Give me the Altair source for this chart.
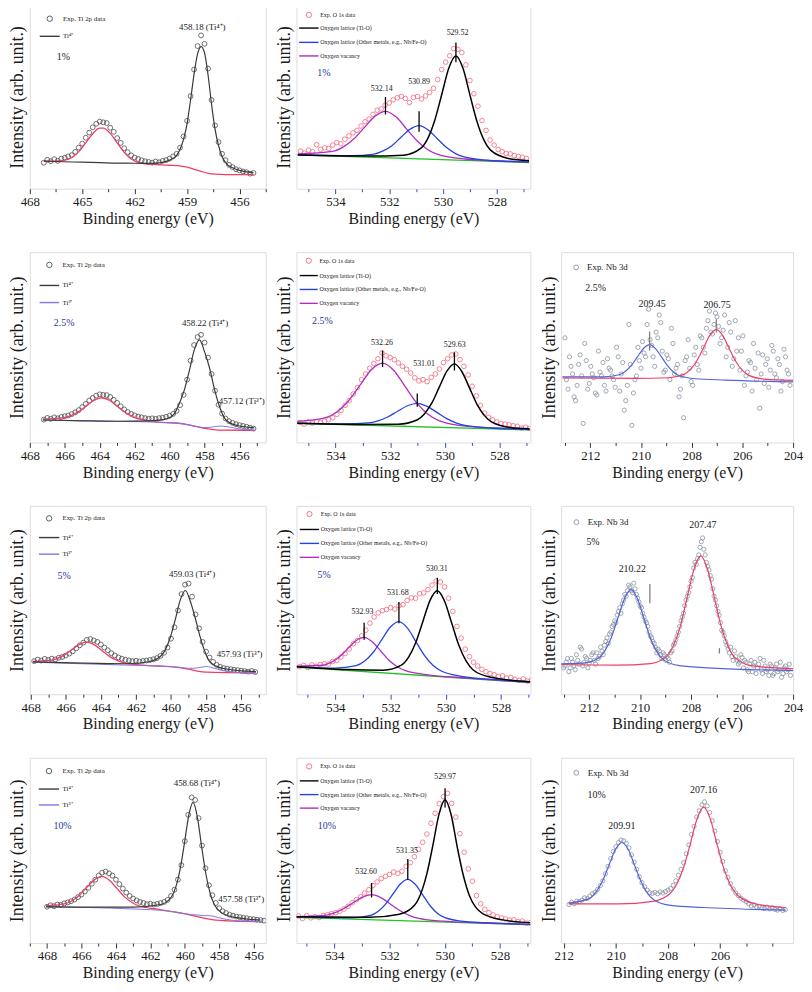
import altair as alt
import pandas as pd

FONT = "Liberation Serif, Times New Roman, serif"
RED = "#ee3f68"
TI_PT = "#4d4d4d"
O_PT = "#f2697c"
NB_PT = "#8893a3"
GRAY_FIT = "#3a3a3a"
TI3 = "#7b78e8"
O_BLACK = "#000000"
O_BLUE = "#2444e0"
O_MAG = "#b22cbf"
O_GREEN = "#22c022"
NB_BLUE = "#5464d8"
PCT_BLUE = "#28389e"
TXT = "#1a1a1a"
FRAME = "#5a5a5a"

# ---------------- Ti 2p, 1% ----------------
TI1_Y = [14.2, 15.8, 15.0, 16.1, 15.2, 16.4, 16.9, 17.6, 18.3, 20.1, 22.4, 24.6, 27.8, 30.6, 33.5, 35.4,
         36.6, 36.2, 35.8, 33.2, 31.0, 27.6, 25.0, 22.1, 19.9, 18.2, 17.0, 16.2, 15.5, 15.0, 14.6, 14.2,
         14.8, 14.4, 15.2, 15.6, 16.4, 17.6, 19.0, 22.4, 28.5, 37.0, 50.5, 65.0, 77.8, 83.6, 79.0, 65.5,
         48.4, 34.5, 25.4, 19.0, 15.6, 13.0, 11.8, 10.6, 10.0, 9.4, 9.0, 8.2, 8.6]
TI1_GRAY_X = [467.2, 466, 465, 464, 463, 462, 461, 460.4, 460.0, 459.8, 459.6, 459.4, 459.2, 459.0, 458.8,
              458.6, 458.4, 458.2, 458.0, 457.8, 457.6, 457.4, 457.2, 457.0, 456.8, 456.4, 456.0, 455.6, 455.2]
TI1_GRAY_Y = [15.0, 14.7, 14.45, 14.2, 13.95, 13.9, 13.8, 14.4, 15.6, 16.6, 18.2, 21.5, 27.0, 35.5, 48.5,
              62.5, 73.5, 77.5, 74.0, 62.0, 46.0, 32.5, 23.5, 17.6, 14.2, 11.4, 10.0, 9.2, 8.8]
TI1_RED_X = [467.2, 466.6, 466.0, 465.6, 465.2, 464.8, 464.4, 464.0, 463.8, 463.4, 463.0, 462.6, 462.2,
             461.8, 461.4, 461.0, 460.0, 459.4, 459.0, 458.6, 458.2, 457.8, 457.4, 456.8, 455.2]
TI1_RED_Y = [15.0, 15.1, 15.6, 17.0, 20.2, 25.0, 30.0, 33.0, 33.0, 30.2, 25.0, 19.8, 16.2, 14.4, 13.6,
             13.3, 12.8, 12.4, 11.8, 10.6, 9.5, 8.4, 7.9, 7.7, 7.7]

# ---------------- O 1s, 1% ----------------
O1_Y = [20.5, 19.4, 21.0, 20.2, 24.0, 21.5, 22.3, 22.0, 23.8, 25.2, 24.5, 27.0, 28.8, 30.5, 31.8, 34.2,
        36.5, 38.0, 40.5, 42.8, 43.5, 45.6, 46.8, 48.5, 49.6, 50.4, 49.2, 47.0, 49.8, 50.3, 48.9, 50.6,
        52.5, 54.8, 59.5, 65.0, 69.0, 72.5, 76.4, 76.0, 74.2, 67.5, 59.0, 51.8, 45.0, 37.2, 31.8, 26.5,
        23.8, 21.4, 20.2, 19.2, 19.0, 18.1, 17.6, 17.2, 16.5]
O1_BLACK_X = [535.4, 532.77, 531.47, 530.82, 530.56, 530.30, 530.04, 529.78, 529.52, 529.26, 529.00,
              528.74, 528.48, 528.22, 527.57, 526.8]
O1_BLACK_Y = [18.4, 17.8, 18.3, 22.1, 27.6, 37.6, 51.8, 66.0, 72.4, 65.8, 51.2, 36.8, 26.6, 20.9, 16.5, 15.3]
O1_BLUE_X = [535.4, 533.39, 532.56, 532.23, 531.89, 531.56, 531.22, 530.89, 530.56, 530.22, 529.89,
             529.55, 529.22, 528.39, 526.8]
O1_BLUE_Y = [18.55, 18.0, 18.9, 20.6, 23.6, 28.1, 32.5, 34.45, 32.2, 27.4, 22.7, 19.3, 17.35, 15.6, 14.5]
O1_MAG_X = [535.4, 534.11, 533.72, 533.32, 532.93, 532.53, 532.14, 531.75, 531.35, 530.96, 530.56,
            530.17, 529.18, 527.22, 526.8]
O1_MAG_Y = [19.0, 20.4, 22.7, 27.1, 33.3, 39.5, 42.2, 39.2, 32.5, 26.0, 21.25, 18.55, 16.2, 14.8, 14.6]
O1_BG_X = [535.4, 526.8]
O1_BG_Y = [18.4, 14.3]

# ---------------- Ti 2p, 2.5% ----------------
TI25_Y = [12.0, 12.9, 12.4, 13.2, 12.7, 13.4, 13.8, 14.2, 14.9, 15.8, 17.0, 18.6, 20.3, 22.0, 23.4, 24.6,
          25.3, 25.0, 24.9, 23.9, 22.4, 20.8, 19.0, 17.4, 16.0, 15.0, 14.2, 13.6, 13.2, 12.8, 12.5, 12.7,
          12.4, 12.8, 13.0, 13.5, 14.0, 15.0, 16.6, 19.6, 25.0, 33.0, 43.0, 51.2, 55.4, 56.6, 52.5, 44.6,
          36.0, 27.2, 19.8, 15.2, 12.6, 11.2, 10.3, 9.6, 9.1, 8.7, 8.3, 7.8, 7.3]
TI25_GRAY_X = [467.25, 465, 463, 461.19, 460.47, 460.03, 459.74, 459.45, 459.16, 458.87, 458.58, 458.29,
               458.0, 457.71, 457.42, 457.13, 456.84, 456.55, 456.12, 455.39, 455.15]
TI25_GRAY_Y = [11.8, 11.4, 11.15, 11.4, 11.9, 12.9, 15.0, 20.4, 27.5, 37.8, 48.9, 53.9, 47.6, 39.0, 27.5,
               18.5, 12.5, 10.3, 8.9, 7.9, 7.7]
TI25_RED_X = [467.25, 466.13, 465.68, 465.23, 464.78, 464.33, 463.88, 463.43, 462.98, 462.53, 462.08,
              461.63, 460.5, 459.5, 459.0, 458.5, 458.0, 457.5, 457.0, 455.15]
TI25_RED_Y = [12.2, 12.9, 14.0, 16.1, 19.1, 22.15, 23.5, 22.05, 18.9, 15.75, 13.5, 12.25, 10.6, 10.1,
              9.4, 8.4, 7.4, 6.8, 6.5, 6.4]
TI25_BLUE_X = [467.25, 463, 460.5, 459.5, 459.0, 458.5, 458.1, 457.8, 457.5, 457.12, 456.7, 456.3, 455.8, 455.15]
TI25_BLUE_Y = [11.8, 11.1, 10.6, 10.1, 9.5, 8.5, 7.9, 7.9, 8.2, 8.6, 8.3, 7.6, 6.9, 6.6]

# ---------------- O 1s, 2.5% ----------------
O25_Y = [10.5, 9.6, 10.8, 10.2, 11.0, 10.5, 11.2, 12.0, 13.0, 14.8, 16.8, 19.5, 22.0, 25.5, 28.8, 33.0,
         36.0, 39.0, 41.5, 44.0, 47.0, 45.5, 44.6, 43.5, 41.8, 40.0, 38.5, 36.5, 34.0, 32.4, 33.0, 32.0,
         34.2, 36.0, 38.6, 42.0, 44.0, 46.0, 46.5, 43.5, 40.0, 35.5, 29.5, 24.5, 19.5, 15.5, 13.2, 11.8,
         10.8, 10.0, 9.6, 9.3, 8.8, 8.5, 7.6, 8.0, 7.4]
O25_MAG_X = [535.4, 534.36, 533.94, 533.53, 533.11, 532.70, 532.28, 531.86, 531.45, 531.03, 530.62,
             530.20, 529.16, 527.08, 526.9]
O25_MAG_Y = [11.1, 13.1, 16.2, 21.8, 29.95, 38.1, 41.7, 37.7, 29.3, 20.8, 14.8, 11.4, 8.5, 7.05, 6.9]
O25_BLUE_X = [535.4, 533.71, 532.81, 532.45, 532.09, 531.73, 531.37, 531.01, 530.65, 530.29, 529.93,
              529.57, 529.21, 528.31, 526.9]
O25_BLUE_Y = [10.2, 9.8, 10.3, 11.4, 13.4, 16.4, 19.3, 20.6, 19.0, 15.8, 12.5, 10.2, 8.8, 7.6, 6.8]
O25_BLACK_X = [535.4, 533.08, 531.71, 531.02, 530.75, 530.47, 530.2, 529.92, 529.65, 529.38, 529.10,
               528.83, 528.55, 528.28, 527.6, 526.9]
O25_BLACK_Y = [10.1, 9.5, 9.6, 11.8, 15.0, 20.9, 29.2, 37.6, 41.3, 37.3, 28.7, 20.2, 14.1, 10.7, 7.9, 7.2]
O25_BG_X = [535.4, 526.9]
O25_BG_Y = [10.1, 6.6]

# ---------------- Nb 3d, 2.5% ----------------
NB25_YA = [55, 28, 40, 24, 30, 46, 10, 43, 31, 36, 26, 48, 35, 30, 44, 38, 33, 50, 27, 42, 22, 62, 9, 33,
           50, 39, 47, 62, 54, 45, 58, 67, 48, 38, 44, 60, 36, 41, 28, 13, 45, 39, 30, 50, 38, 55, 47, 64,
           58, 62, 66, 52, 59, 45, 63, 40, 64, 55, 48, 30, 37, 42, 52, 33, 18, 46, 41, 29, 51, 36, 44, 27,
           49, 38, 30]
NB25_YB = [33, 45, 36, 22, 41, 35, 52, 28, 40, 34, 25, 37, 42, 27, 39, 35, 29, 45, 36, 17, 30, 41, 26, 35,
           43, 53, 45, 70, 51, 40, 55, 63, 37, 46, 33, 52, 39, 24, 35, 43, 54, 32, 46, 41, 56, 50, 60, 69,
           57, 68, 61, 55, 67, 50, 58, 44, 48, 38, 56, 35, 43, 27, 39, 47, 36, 31, 44, 38, 48, 34, 41, 32,
           45, 36]
NB25_BLUE_X = [213.1, 211.46, 210.86, 210.62, 210.38, 210.14, 209.9, 209.66, 209.42, 209.18, 208.94,
               208.7, 208.46, 207.86, 206.66, 204.0]
NB25_BLUE_Y = [34.55, 34.5, 35.6, 37.3, 40.5, 45.0, 49.4, 51.4, 49.2, 44.7, 40.1, 36.8, 34.9, 33.5, 32.8, 31.8]
NB25_RED_X = [213.1, 210.21, 208.94, 208.3, 208.05, 207.79, 207.54, 207.28, 207.03, 206.78, 206.52,
              206.27, 206.01, 205.76, 205.12, 204.0]
NB25_RED_Y = [33.9, 33.7, 34.0, 35.8, 38.4, 43.1, 49.6, 56.4, 59.3, 56.3, 49.4, 42.8, 38.0, 35.4, 33.3, 32.6]

# ---------------- Ti 2p, 5% ----------------
TI5_Y = [17.6, 18.4, 17.9, 18.8, 18.2, 18.9, 18.5, 19.4, 19.8, 20.6, 21.6, 22.8, 24.4, 26.0, 27.4, 28.9,
         29.3, 28.6, 27.8, 26.4, 24.8, 23.4, 21.8, 20.6, 19.6, 18.9, 18.3, 18.0, 17.6, 17.8, 17.4, 17.7,
         17.9, 18.2, 18.6, 19.2, 20.4, 22.0, 24.8, 29.5, 35.6, 44.5, 53.2, 58.2, 58.8, 51.8, 42.4, 35.0,
         27.8, 22.6, 19.5, 17.2, 15.6, 14.6, 13.9, 13.6, 13.3, 13.0, 12.8, 12.5, 12.3, 12.0, 12.4, 11.8]
TI5_GRAY_X = [467.87, 465, 462.5, 461.28, 460.58, 460.3, 460.02, 459.74, 459.46, 459.18, 458.9, 458.62,
              458.34, 458.06, 457.78, 457.08, 455.7, 455.16]
TI5_GRAY_Y = [17.2, 16.5, 16.2, 17.25, 20.3, 24.1, 30.8, 40.3, 50.4, 55.1, 49.4, 40.5, 30.5, 22.5, 17.15,
              13.8, 12.25, 12.0]
TI5_RED_X = [467.87, 466.93, 466.5, 466.07, 465.65, 465.22, 464.79, 464.36, 463.93, 463.51, 463.08,
             462.65, 461.6, 460.5, 460.0, 459.5, 459.0, 458.5, 458.0, 455.16]
TI5_RED_Y = [17.4, 17.95, 18.95, 20.9, 23.65, 26.5, 27.7, 26.25, 23.1, 20.1, 17.95, 16.6, 15.45, 14.9,
             14.7, 14.2, 13.3, 12.3, 11.8, 11.4]
TI5_BLUE_X = [467.87, 463, 460.5, 459.5, 459.0, 458.7, 458.4, 458.16, 457.96, 457.76, 457.5, 457.2,
              456.8, 456.2, 455.16]
TI5_BLUE_Y = [17.0, 15.6, 14.9, 14.3, 13.8, 13.8, 14.2, 14.5, 14.8, 14.4, 13.7, 12.9, 12.1, 11.6, 11.4]

# ---------------- O 1s, 5% ----------------
O5_Y = [14.6, 15.4, 14.2, 15.6, 14.9, 15.8, 16.2, 16.0, 17.4, 18.0, 19.8, 21.6, 24.0, 26.8, 28.6, 31.0,
        34.0, 37.8, 41.0, 43.2, 44.4, 45.0, 46.0, 45.2, 47.0, 47.6, 49.8, 51.2, 51.0, 53.4, 53.8, 55.6,
        58.0, 60.2, 59.6, 57.0, 51.0, 44.0, 36.0, 29.8, 24.0, 20.0, 17.0, 15.0, 13.2, 12.0, 11.0, 10.4,
        9.4, 9.8, 8.6, 8.9, 8.0, 7.4, 8.2, 7.0, 7.6]
O5_MAG_X = [535.4, 534.46, 534.16, 533.86, 533.56, 533.26, 532.96, 532.66, 532.36, 532.06, 531.76,
            531.46, 530.71, 529.21, 526.95]
O5_MAG_Y = [14.9, 15.4, 16.9, 19.8, 24.1, 28.4, 30.2, 27.8, 23.0, 18.1, 14.6, 12.5, 10.4, 8.6, 6.3]
O5_BLUE_X = [535.4, 534.03, 533.25, 532.94, 532.63, 532.32, 532.01, 531.7, 531.39, 531.08, 530.77,
             530.46, 530.15, 529.38, 527.83, 526.95]
O5_BLUE_Y = [14.7, 13.9, 15.2, 17.65, 22.3, 29.0, 35.7, 38.6, 35.1, 27.8, 20.5, 15.25, 12.2, 9.4, 7.4, 6.4]
O5_BLACK_X = [535.4, 533.56, 532.26, 531.61, 531.35, 531.09, 530.83, 530.57, 530.31, 530.05, 529.79,
              529.53, 529.27, 529.01, 528.36, 527.06, 526.95]
O5_BLACK_Y = [14.6, 13.1, 12.8, 15.45, 19.7, 27.5, 38.8, 50.0, 55.0, 49.5, 37.8, 26.0, 17.7, 12.9, 9.0,
              6.8, 6.7]
O5_BG_X = [535.4, 526.95]
O5_BG_Y = [14.4, 6.2]

# ---------------- Nb 3d, 5% ----------------
NB5_YA = [14, 17, 12, 19, 15, 21, 16, 24, 17, 19, 16.5, 21, 18, 22, 20, 23, 26, 30, 32, 36, 39, 42, 46,
          48, 53, 55, 57, 54, 56, 51, 47, 43, 39, 36, 31, 28, 25, 24, 21, 22, 18, 19, 22, 26, 29, 33, 39,
          43, 50, 54, 60, 67, 69, 74, 81, 77, 70, 66, 61, 52, 47, 42, 34, 31, 26, 22, 20, 23, 18, 17,
          19.5, 18, 13, 16, 12, 17, 14, 19, 11, 15, 13, 16, 10, 14, 12, 17, 11, 15, 13, 10]
NB5_YB = [15, 19, 14, 17, 13, 18, 25, 15, 20, 14, 18, 22, 16, 19, 25, 21, 28, 27, 33, 37, 38, 44, 43, 50,
          52, 58, 55, 59, 53, 49, 46, 41, 38, 33, 30, 27, 22, 23, 19, 21, 20, 17, 23, 27, 31, 36, 41, 47,
          52, 57, 62, 70, 72, 78, 83, 74, 68, 63, 56, 50, 44, 38, 33, 28, 24, 25, 18, 20, 16, 21, 14, 17,
          12, 18, 15, 11, 16, 13, 18, 12, 10, 15, 11, 16, 13, 9, 14, 12, 16]
NB5_BLUE_X = [213.1, 212.26, 211.63, 211.38, 211.12, 210.87, 210.61, 210.36, 210.11, 209.85, 209.6,
              209.34, 209.09, 208.46, 207.19, 204.0]
NB5_BLUE_Y = [16.2, 16.5, 19.25, 23.2, 30.4, 40.6, 50.9, 55.55, 50.8, 40.3, 29.9, 22.5, 18.4, 15.2, 13.9, 12.6]
NB5_RED_X = [213.1, 210.92, 209.6, 208.94, 208.68, 208.41, 208.15, 207.88, 207.62, 207.36, 207.09,
             206.83, 206.56, 206.3, 205.64, 204.0]
NB5_RED_Y = [15.8, 15.5, 16.3, 20.5, 26.3, 36.85, 51.8, 66.7, 73.5, 66.5, 51.5, 36.4, 25.7, 19.7, 15.2, 13.5]

# ---------------- Ti 2p, 10% ----------------
TI10_Y = [19.6, 20.4, 19.9, 20.8, 20.6, 21.4, 21.9, 22.6, 23.5, 24.8, 26.2, 27.9, 29.8, 32.0, 34.2, 36.4,
          38.0, 38.6, 37.6, 36.4, 34.2, 31.8, 29.4, 27.2, 25.4, 24.0, 23.0, 22.2, 21.6, 21.0, 21.2, 20.8,
          21.1, 21.6, 22.2, 23.3, 25.4, 28.8, 34.2, 42.0, 55.0, 69.2, 78.6, 77.2, 67.4, 52.6, 40.4, 31.2,
          25.8, 21.6, 18.8, 17.2, 16.2, 15.3, 14.8, 14.3, 14.0, 13.6, 13.4, 13.0, 12.9, 12.6, 12.4, 12.1]
TI10_GRAY_X = [468.06, 465, 463, 461.4, 460.77, 460.52, 460.27, 460.02, 459.77, 459.52, 459.27, 459.02,
               458.77, 458.52, 458.27, 457.65, 456.4, 455.6]
TI10_GRAY_Y = [19.7, 19.4, 19.4, 20.8, 25.0, 30.3, 39.9, 53.9, 68.9, 75.9, 68.0, 51.9, 37.0, 26.6, 20.5,
               15.3, 13.0, 12.45]
TI10_RED_X = [468.06, 467.01, 466.57, 466.13, 465.7, 465.26, 464.82, 464.38, 463.94, 463.51, 463.07,
              462.63, 461.5, 460.6, 460.2, 459.8, 459.4, 459.0, 458.6, 458.2, 457.5, 455.6]
TI10_RED_Y = [20.05, 21.1, 22.7, 25.65, 29.9, 34.1, 36.0, 33.9, 29.5, 25.05, 21.9, 20.0, 18.2, 16.8,
              16.1, 15.4, 14.6, 13.7, 12.9, 12.4, 12.0, 11.6]
TI10_BLUE_X = [468.06, 463, 461, 460.2, 459.6, 459.2, 458.85, 458.45, 458.05, 457.6, 457.0, 456.3, 455.6]
TI10_BLUE_Y = [19.5, 18.4, 17.3, 16.2, 15.35, 15.1, 14.85, 14.7, 13.75, 12.8, 12.1, 11.8, 11.6]

# ---------------- O 1s, 10% ----------------
O10_Y = [14.6, 13.2, 14.8, 13.6, 14.2, 13.8, 14.9, 15.3, 15.9, 16.4, 17.2, 18.4, 19.8, 21.8, 23.4, 25.0,
         27.0, 28.8, 31.0, 33.0, 34.8, 36.0, 37.0, 38.4, 37.6, 38.8, 41.4, 43.4, 46.6, 50.6, 54.4, 58.8,
         64.6, 70.0, 75.2, 79.0, 80.8, 75.4, 68.0, 59.0, 49.0, 40.0, 33.4, 25.6, 21.2, 18.2, 16.4, 15.2,
         14.2, 13.6, 13.0, 12.4, 12.6, 11.6, 11.9, 10.8, 11.0]
O10_MAG_X = [535.37, 534.4, 534.05, 533.7, 533.35, 533.0, 532.65, 532.3, 531.95, 531.6, 531.25, 530.9,
             530.03, 528.28, 526.9]
O10_MAG_Y = [14.3, 14.85, 16.0, 18.25, 21.5, 24.7, 26.1, 24.4, 20.8, 17.3, 14.7, 13.2, 11.8, 10.7, 10.0]
O10_BLUE_X = [535.37, 533.37, 532.69, 532.42, 532.15, 531.88, 531.61, 531.34, 531.07, 530.8, 530.53,
              530.26, 529.99, 529.32, 527.97, 526.9]
O10_BLUE_Y = [14.1, 13.6, 14.95, 17.05, 20.9, 26.4, 31.9, 34.4, 31.7, 26.0, 20.15, 16.0, 13.7, 11.7,
              10.65, 10.05]
O10_BLACK_X = [535.37, 532.74, 531.64, 531.09, 530.87, 530.65, 530.43, 530.21, 529.99, 529.77, 529.55,
               529.33, 529.11, 528.89, 528.34, 527.24, 526.9]
O10_BLACK_Y = [14.2, 13.9, 15.6, 20.5, 26.6, 37.3, 52.8, 69.4, 77.3, 69.2, 51.9, 36.6, 25.7, 19.5, 14.0,
               11.3, 10.95]
O10_BG_X = [535.37, 526.9]
O10_BG_Y = [13.9, 9.9]

# ---------------- Nb 3d, 10% ----------------
NB10_Y = [20.8, 22.0, 21.2, 22.6, 22.4, 23.2, 24.4, 24.0, 25.4, 26.6, 27.4, 29.0, 31.0, 33.6, 37.4, 41.4,
          45.6, 49.4, 52.0, 54.2, 55.6, 55.2, 53.8, 51.4, 47.6, 43.6, 39.8, 35.8, 32.6, 30.4, 28.6, 27.2,
          26.8, 27.4, 26.6, 27.6, 27.0, 27.8, 28.6, 29.4, 31.2, 33.6, 36.6, 39.8, 43.4, 48.2, 53.0, 58.6,
          63.0, 68.0, 71.4, 74.6, 76.2, 74.0, 70.4, 66.0, 60.4, 54.8, 49.0, 44.0, 39.0, 35.4, 32.0, 29.2,
          27.0, 25.6, 24.2, 23.2, 22.4, 21.2, 20.0, 20.6, 19.4, 19.8, 19.0, 18.6, 19.4, 18.4, 19.0, 18.2,
          17.8, 18.6, 17.6, 18.0]
NB10_BLUE_X = [211.81, 211.02, 210.77, 210.52, 210.27, 210.02, 209.77, 209.52, 209.27, 209.02, 208.77,
               208.52, 207.9, 206.65, 203.48]
NB10_BLUE_Y = [21.6, 24.0, 27.3, 33.3, 41.8, 50.4, 54.25, 50.3, 41.5, 32.8, 26.5, 23.1, 20.3, 19.2, 17.8]
NB10_RED_X = [211.81, 209.88, 208.58, 207.93, 207.67, 207.41, 207.15, 206.89, 206.63, 206.37, 206.11,
              205.85, 205.59, 205.33, 204.68, 203.48]
NB10_RED_Y = [21.1, 21.1, 22.5, 26.6, 31.6, 40.4, 53.15, 66.8, 73.3, 66.6, 52.8, 39.9, 30.9, 25.8, 21.3, 19.2]

# ---------------- axis ticks ----------------
TI1_TICKS = [468, 466.5, 465, 463.5, 462, 460.5, 459, 457.5, 456, 454.5]
TI1_LABELS = [468, 465, 462, 459, 456]
TI_TICKS = [468, 467, 466, 465, 464, 463, 462, 461, 460, 459, 458, 457, 456, 455]
TI10_TICKS = [469, 468, 467, 466, 465, 464, 463, 462, 461, 460, 459, 458, 457, 456]
TI_LABELS = [468, 466, 464, 462, 460, 458, 456]
O_TICKS = [535, 534, 533, 532, 531, 530, 529, 528, 527]
O_LABELS = [534, 532, 530, 528]
NB_TICKS = [213, 212, 211, 210, 209, 208, 207, 206, 205, 204]
NB_LABELS = [212, 210, 208, 206, 204]
NB10_TICKS = [212, 211, 210, 209, 208, 207, 206, 205, 204]
NB10_LABELS = [212, 210, 208, 206]

O_LEG = ["Exp. O 1s data", "Oxygen lattice (Ti-O)", "Oxygen lattice (Other metals, e.g., Nb/Fe-O)", "Oxygen vacancy"]


def grid_df(x0, step, ys):
    return pd.DataFrame({"x": [round(x0 - step * i, 3) for i in range(len(ys))], "y": ys})


def ti_panel(dom, ticks, labels, pts, gray, red, blue, leg, pct, peaks):
    lines = [(red[0], red[1], RED, 1.3)]
    if blue is not None:
        lines.append((blue[0], blue[1], TI3, 1.0))
    lines.append((gray[0], gray[1], GRAY_FIT, 1.2))
    lx, ly, lx1, lx2, lyy = leg
    leg_lines = [(lx1, lx2, lyy[0], GRAY_FIT)]
    leg_text = [(lx, ly, "Exp. Ti 2p data"), (lx, lyy[0], "Ti⁴⁺")]
    if blue is not None:
        leg_lines.append((lx1, lx2, lyy[1], TI3))
        leg_text.append((lx, lyy[1], "Ti³⁺"))
    return dict(dom=dom, ticks=ticks, labels=labels, tickc="#333", pts=pts, ptc=TI_PT, psize=24,
                lines=lines, marks=[], mark_c=O_BLACK, leg_pt=((lx1 + lx2) / 2, ly), leg_lines=leg_lines,
                leg_text=leg_text, leg_fs=7, center=[pct] + peaks)


def o_panel(dom, pts, black, blue, mag, bg, leg, pct, peaks, marks):
    lx, x1, x2, ys = leg
    return dict(dom=dom, ticks=O_TICKS, labels=O_LABELS, tickc="#3050c0", pts=pts, ptc=O_PT, psize=22,
                lines=[(bg[0], bg[1], O_GREEN, 1.3), (mag[0], mag[1], O_MAG, 1.3), (blue[0], blue[1], O_BLUE, 1.3),
                       (black[0], black[1], O_BLACK, 1.5)],
                marks=marks, mark_c=O_BLACK, leg_pt=((x1 + x2) / 2, ys[0]),
                leg_lines=[(x1, x2, ys[1], O_BLACK), (x1, x2, ys[2], O_BLUE), (x1, x2, ys[3], O_MAG)],
                leg_text=[(lx, ys[i], O_LEG[i]) for i in range(4)], leg_fs=6, center=[pct] + peaks)


def nb_panel(dom, ticks, labels, pts, blue, red, leg, pct, peaks, marks):
    return dict(dom=dom, ticks=ticks, labels=labels, tickc="#333", pts=pts, ptc=NB_PT, psize=18,
                lines=[(red[0], red[1], RED, 1.2), (blue[0], blue[1], NB_BLUE, 1.2)],
                marks=marks, mark_c="#808080", leg_pt=(leg[0], leg[2]), leg_lines=[],
                leg_text=[(leg[1], leg[2], "Exp. Nb 3d")], leg_fs=9, center=[pct] + peaks)


PA = ti_panel([454.5, 468.0], TI1_TICKS, TI1_LABELS, [(467.2, 0.2, TI1_Y)],
              (TI1_GRAY_X, TI1_GRAY_Y), (TI1_RED_X, TI1_RED_Y), None,
              (466.1, 92.7, 467.43, 466.29, [83.1]), (466.08, 71.8, "1%", 10, TXT),
              [(458.13, 88.2, "458.18 (Ti⁴⁺)", 9, TXT)])
PB = o_panel([526.75, 535.45], [(535.3, 0.15, O1_Y)], (O1_BLACK_X, O1_BLACK_Y), (O1_BLUE_X, O1_BLUE_Y),
             (O1_MAG_X, O1_MAG_Y), (O1_BG_X, O1_BG_Y), (534.57, 535.35, 534.63, [94.8, 87.6, 79.8, 72.4]),
             (534.43, 62.9, "1%", 10, PCT_BLUE),
             [(529.46, 84.8, "529.52", 8, TXT), (530.89, 58.1, "530.89", 8, TXT), (532.28, 54.3, "532.14", 8, TXT)],
             [(529.52, 69.0, 79.7), (530.89, 31.0, 42.2), (532.14, 40.5, 50.0)])
PC = ti_panel([454.5, 468.0], TI_TICKS, TI_LABELS, [(467.2, 0.2, TI25_Y)],
              (TI25_GRAY_X, TI25_GRAY_Y), (TI25_RED_X, TI25_RED_Y), (TI25_BLUE_X, TI25_BLUE_Y),
              (466.13, 93.3, 467.44, 466.32, [82.5, 73.5]), (466.04, 62.6, "2.5%", 10, PCT_BLUE),
              [(457.97, 62.6, "458.22 (Ti⁴⁺)", 9, TXT), (455.87, 21.9, "457.12 (Ti³⁺)", 9, TXT)])
PD = o_panel([526.87, 535.43], [(535.3, 0.15, O25_Y)], (O25_BLACK_X, O25_BLACK_Y), (O25_BLUE_X, O25_BLUE_Y),
             (O25_MAG_X, O25_MAG_Y), (O25_BG_X, O25_BG_Y), (534.59, 535.31, 534.65, [95.5, 87.7, 80.4, 73.1]),
             (534.48, 63.9, "2.5%", 10, PCT_BLUE),
             [(532.3, 52.1, "532.26", 8, TXT), (530.76, 41.3, "531.01", 8, TXT), (529.64, 51.2, "529.63", 8, TXT)],
             [(532.28, 39.6, 48.3), (531.01, 18.75, 25.7), (529.65, 37.8, 47.4)])
PE = nb_panel([204.0, 213.15], NB_TICKS, NB_LABELS, [(213.0, 0.12, NB25_YA), (212.94, 0.12, NB25_YB)],
              (NB25_BLUE_X, NB25_BLUE_Y), (NB25_RED_X, NB25_RED_Y), (212.56, 212.13, 92.0),
              (211.79, 80.9, "2.5%", 10, TXT),
              [(209.56, 72.9, "209.45", 10, TXT), (207.0, 72.2, "206.75", 10, TXT)],
              [(209.66, 48.3, 58.3), (207.03, 57.8, 64.8)])
PF = ti_panel([454.6, 468.05], TI_TICKS, TI_LABELS, [(467.8, 0.2, TI5_Y)],
              (TI5_GRAY_X, TI5_GRAY_Y), (TI5_RED_X, TI5_RED_Y), (TI5_BLUE_X, TI5_BLUE_Y),
              (466.19, 93.4, 467.53, 466.37, [83.2, 74.4]), (466.09, 62.8, "5%", 10, PCT_BLUE),
              [(458.8, 64.0, "459.03 (Ti⁴⁺)", 9, TXT), (456.09, 21.3, "457.93 (Ti³⁺)", 9, TXT)])
PG = o_panel([526.94, 535.41], [(535.3, 0.15, O5_Y)], (O5_BLACK_X, O5_BLACK_Y), (O5_BLUE_X, O5_BLUE_Y),
             (O5_MAG_X, O5_MAG_Y), (O5_BG_X, O5_BG_Y), (534.53, 535.29, 534.59, [95.7, 87.5, 80.1, 72.7]),
             (534.41, 63.3, "5%", 10, PCT_BLUE),
             [(530.33, 66.3, "530.31", 8, TXT), (531.74, 53.6, "531.68", 8, TXT), (533.02, 43.8, "532.93", 8, TXT)],
             [(530.31, 53.3, 61.9), (531.7, 37.7, 49.0), (532.96, 29.0, 38.0)])
PH = nb_panel([204.0, 213.1], NB_TICKS, NB_LABELS, [(213.0, 0.1, NB5_YA), (212.95, 0.1, NB5_YB)],
              (NB5_BLUE_X, NB5_BLUE_Y), (NB5_RED_X, NB5_RED_Y), (212.5, 212.06, 91.4),
              (211.85, 81.0, "5%", 10, TXT),
              [(207.54, 89.7, "207.47", 10, TXT), (210.31, 66.4, "210.22", 10, TXT)],
              [(209.62, 48.3, 58.6), (206.89, 21.6, 24.5)])
PI = ti_panel([455.3, 469.0], TI10_TICKS, TI_LABELS, [(468.0, 0.2, TI10_Y)],
              (TI10_GRAY_X, TI10_GRAY_Y), (TI10_RED_X, TI10_RED_Y), (TI10_BLUE_X, TI10_BLUE_Y),
              (467.1, 92.8, 468.48, 467.3, [83.1, 74.5]), (467.1, 63.3, "10%", 10, PCT_BLUE),
              [(459.3, 86.2, "458.68 (Ti⁴⁺)", 9, TXT), (456.72, 23.8, "457.58 (Ti³⁺)", 9, TXT)])
PJ = o_panel([526.9, 535.37], [(535.3, 0.15, O10_Y)], (O10_BLACK_X, O10_BLACK_Y), (O10_BLUE_X, O10_BLUE_Y),
             (O10_MAG_X, O10_MAG_Y), (O10_BG_X, O10_BG_Y), (534.51, 535.25, 534.57, [95.3, 87.5, 80.1, 72.8]),
             (534.27, 63.1, "10%", 10, PCT_BLUE),
             [(529.99, 89.6, "529.97", 8, TXT), (531.37, 49.7, "531.35", 8, TXT), (532.85, 38.5, "532.60", 8, TXT)],
             [(529.99, 73.1, 83.5), (531.34, 34.1, 45.4), (532.65, 24.6, 32.4)])
PK = nb_panel([203.2, 212.1], NB10_TICKS, NB10_LABELS, [(211.8, 0.1, NB10_Y)],
              (NB10_BLUE_X, NB10_BLUE_Y), (NB10_RED_X, NB10_RED_Y), (211.52, 211.08, 91.9),
              (210.74, 79.8, "10%", 10, TXT),
              [(206.63, 82.8, "207.16", 10, TXT), (209.77, 62.9, "209.91", 10, TXT)], [])


def build(p, width, height):
    xsc = alt.Scale(domain=p["dom"], reverse=True, nice=False, zero=False)
    ysc = alt.Scale(domain=[0, 100], nice=False, zero=False)
    lab = ",".join(str(v) for v in p["labels"])
    test = f"indexof([{lab}], datum.value) >= 0"
    xaxis = alt.Axis(title="Binding energy (eV)", values=p["ticks"],
                     labelExpr=f"{test} ? format(datum.value, 'd') : ''",
                     tickSize={"condition": {"test": test, "value": 5}, "value": 3},
                     tickColor=p["tickc"], tickWidth=1, domain=False, grid=False, labelFlush=False,
                     labelFont=FONT, labelFontSize=13, labelColor=TXT, labelPadding=2,
                     titleFont=FONT, titleFontSize=16, titleFontWeight="normal", titleColor=TXT, titlePadding=2)
    yaxis = alt.Axis(title="Intensity (arb. unit.)", labels=False, ticks=False, domain=False, grid=False,
                     titleFont=FONT, titleFontSize=18, titleFontWeight="normal", titleColor=TXT, titlePadding=3)
    X = alt.X("x:Q", scale=xsc, axis=xaxis)
    Y = alt.Y("y:Q", scale=ysc, axis=yaxis)
    layers = []
    pts = pd.concat([grid_df(*s) for s in p["pts"]], ignore_index=True)
    layers.append(alt.Chart(pts).mark_point(shape="circle", filled=False, size=p["psize"], strokeWidth=0.8,
                                            color=p["ptc"], opacity=1, clip=True).encode(x=X, y=Y))
    for xs_, ys_, c, w in p["lines"]:
        layers.append(alt.Chart(pd.DataFrame({"x": xs_, "y": ys_})).mark_line(
            color=c, strokeWidth=w, interpolate="monotone", clip=True).encode(x=X, y=Y))
    if p["marks"]:
        mdf = pd.DataFrame(p["marks"], columns=["x", "y", "y2"])
        layers.append(alt.Chart(mdf).mark_rule(color=p["mark_c"], strokeWidth=1.3).encode(
            x=X, y=Y, y2=alt.Y2("y2:Q")))
    lp = pd.DataFrame([p["leg_pt"]], columns=["x", "y"])
    layers.append(alt.Chart(lp).mark_point(shape="circle", filled=False, size=p["psize"] + 6, strokeWidth=0.9,
                                           color=p["ptc"], opacity=1).encode(x=X, y=Y))
    if p["leg_lines"]:
        ldf = pd.DataFrame(p["leg_lines"], columns=["x", "x2", "y", "c"])
        layers.append(alt.Chart(ldf).mark_rule(strokeWidth=1.4).encode(
            x=X, x2=alt.X2("x2:Q"), y=Y, color=alt.Color("c:N", scale=None)))
    tdf = pd.DataFrame(p["leg_text"], columns=["x", "y", "t"])
    layers.append(alt.Chart(tdf).mark_text(align="left", baseline="middle", font=FONT, fontSize=p["leg_fs"],
                                           color=TXT).encode(x=X, y=Y, text="t:N"))
    cdf = pd.DataFrame(p["center"], columns=["x", "y", "t", "fs", "c"])
    layers.append(alt.Chart(cdf).mark_text(align="center", baseline="middle", font=FONT).encode(
        x=X, y=Y, text="t:N", size=alt.Size("fs:Q", scale=None), color=alt.Color("c:N", scale=None)))
    return alt.layer(*layers).properties(width=width, height=height)


W1, W2, W3 = 238, 236, 234
row1 = alt.hconcat(build(PA, W1, 185), build(PB, W2, 185), spacing=8)
row2 = alt.hconcat(build(PC, W1, 192), build(PD, W2, 192), build(PE, W3, 192), spacing=8)
row3 = alt.hconcat(build(PF, W1, 190), build(PG, W2, 190), build(PH, W3, 190), spacing=8)
row4 = alt.hconcat(build(PI, W1, 187), build(PJ, W2, 187), build(PK, W3, 187), spacing=8)

chart = alt.vconcat(row1, row2, row3, row4, spacing=24).properties(
    padding={"left": 0, "top": -8, "right": 0, "bottom": 0}
).configure_view(stroke=FRAME, strokeWidth=1.3).configure(background="white")

chart.save("out.html", embed_options={"renderer": "svg", "actions": False})
